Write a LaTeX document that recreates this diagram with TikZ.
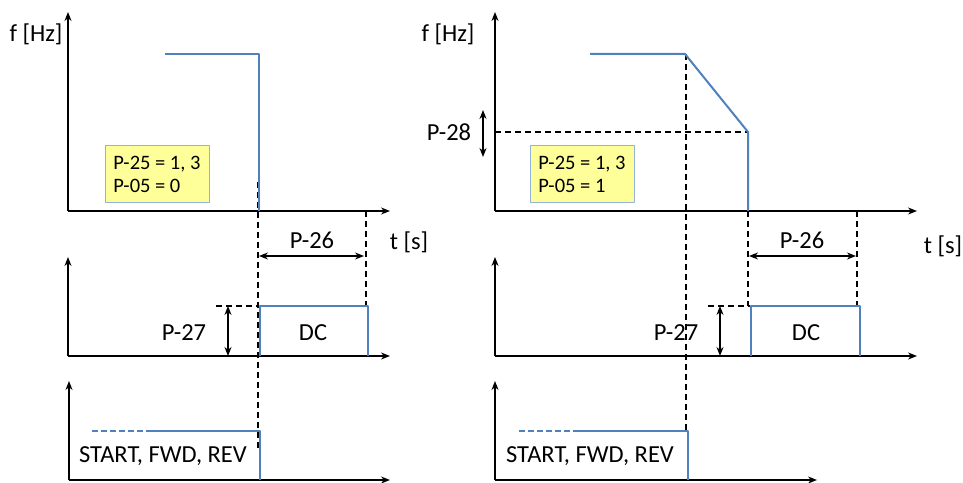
\documentclass[tikz,border=0pt]{standalone}
\usepackage{fontspec}
\setmainfont{Carlito}
\usetikzlibrary{arrows.meta}
\definecolor{sigblue}{RGB}{79,129,189}
\definecolor{notefill}{RGB}{255,255,153}
\definecolor{notedraw}{RGB}{149,179,215}
\tikzset{
	axis/.style={line width=1.4pt,->},
	signal/.style={sigblue,line width=2pt},
	guide/.style={line width=1.2pt,dash pattern=on 6pt off 4pt},
	dim/.style={line width=1.3pt,<->},
	lbl/.style={font=\fontsize{24.5}{27}\selectfont,inner sep=0pt},
	note/.style={draw=notedraw,fill=notefill,line width=1pt,minimum width=104pt,minimum height=57pt,
		align=left,inner sep=0pt,font=\fontsize{20.5}{23}\selectfont}
}
\begin{document}
\begin{tikzpicture}[x=1pt,y=1pt,>={Stealth[length=9pt,width=7pt]}, line join=round]
	\useasboundingbox (0,0) rectangle (963,482);
	\def\top{271} \def\mid{126} \def\bot{2} % axes
	\def\dc{176} \def\run{51}
	% left: P-05 = 0
	\coordinate (fL) at (68,\top);
	\coordinate (dL) at (68,\mid);
	\coordinate (sL) at (69,\bot);
	\draw[guide] (258,300)--(258,34);
	\draw[guide] (366,\top)--(366,\dc);
	\draw[guide] (216,\dc)--(259,\dc);
	\draw[axis] (fL)--(68,470);
	\draw[axis] (fL)--(390,\top);
	\draw[axis] (dL)--(68,225);
	\draw[axis] (dL)--(390,\mid);
	\draw[axis] (sL)--(69,101);
	\draw[axis] (sL)--(390,\bot);
	\node[lbl] (fHzL) at (36,448) {f [Hz]};
	\node[lbl] (tsL) at (409,240) {t [s]};
	\node[note] (noteL) at (157,307.5) {P-25 = 1, 3\\P-05 = 0};
	\draw[signal] (165,428)--(259,428)--(259,\top);
	\draw[signal] (260,\mid)--(260,\dc)--(368,\dc)--(368,\mid);
	\draw[signal,dash pattern=on 6pt off 3pt] (92,\run)--(150,\run);
	\draw[signal] (150,\run)--(260,\run)--(260,\bot);
	\draw[dim] (259,226)--(364,226);
	\node[lbl] (p26L) at (312,242) {P-26};
	\draw[dim] (228,\dc)--(228,\mid);
	\node[lbl] (p27L) at (184,149) {P-27};
	\node[lbl] (dcL) at (313,149) {DC};
	\node[lbl] (cmdL) at (163,26) {START, FWD, REV};
	% right: P-05 = 1
	\coordinate (fR) at (495,\top);
	\coordinate (dR) at (495,\mid);
	\coordinate (sR) at (495,\bot);
	\draw[guide] (495,350)--(748,350);
	\draw[guide] (686,428)--(686,51);
	\draw[guide] (748,\top)--(748,\dc);
	\draw[guide] (857,\top)--(857,\dc);
	\draw[guide] (708,\dc)--(750,\dc);
	\draw[axis] (fR)--(495,470);
	\draw[axis] (fR)--(917,\top);
	\draw[axis] (dR)--(495,225);
	\draw[axis] (dR)--(917,\mid);
	\draw[axis] (sR)--(495,101);
	\draw[axis] (sR)--(817,\bot);
	\node[lbl] (fHzR) at (448,448) {f [Hz]};
	\node[lbl] (tsR) at (943,236) {t [s]};
	\node[note] (noteR) at (582,307.5) {P-25 = 1, 3\\P-05 = 1};
	\draw[signal] (590,428)--(685,428)--(748,350)--(748,\top);
	\draw[signal] (751,\mid)--(751,\dc)--(860,\dc)--(860,\mid);
	\draw[signal,dash pattern=on 6pt off 3pt] (519,\run)--(578,\run);
	\draw[signal] (578,\run)--(688,\run)--(688,\bot);
	\draw[dim] (483,372)--(483,325);
	\node[lbl] (p28R) at (449,350) {P-28};
	\draw[dim] (749,226)--(856,226);
	\node[lbl] (p26R) at (802,242) {P-26};
	\draw[dim] (720,\dc)--(720,\mid);
	\node[lbl] (p27R) at (676,149) {P-27};
	\node[lbl] (dcR) at (806,149) {DC};
	\node[lbl] (cmdR) at (590,26) {START, FWD, REV};
\end{tikzpicture}
\end{document}
